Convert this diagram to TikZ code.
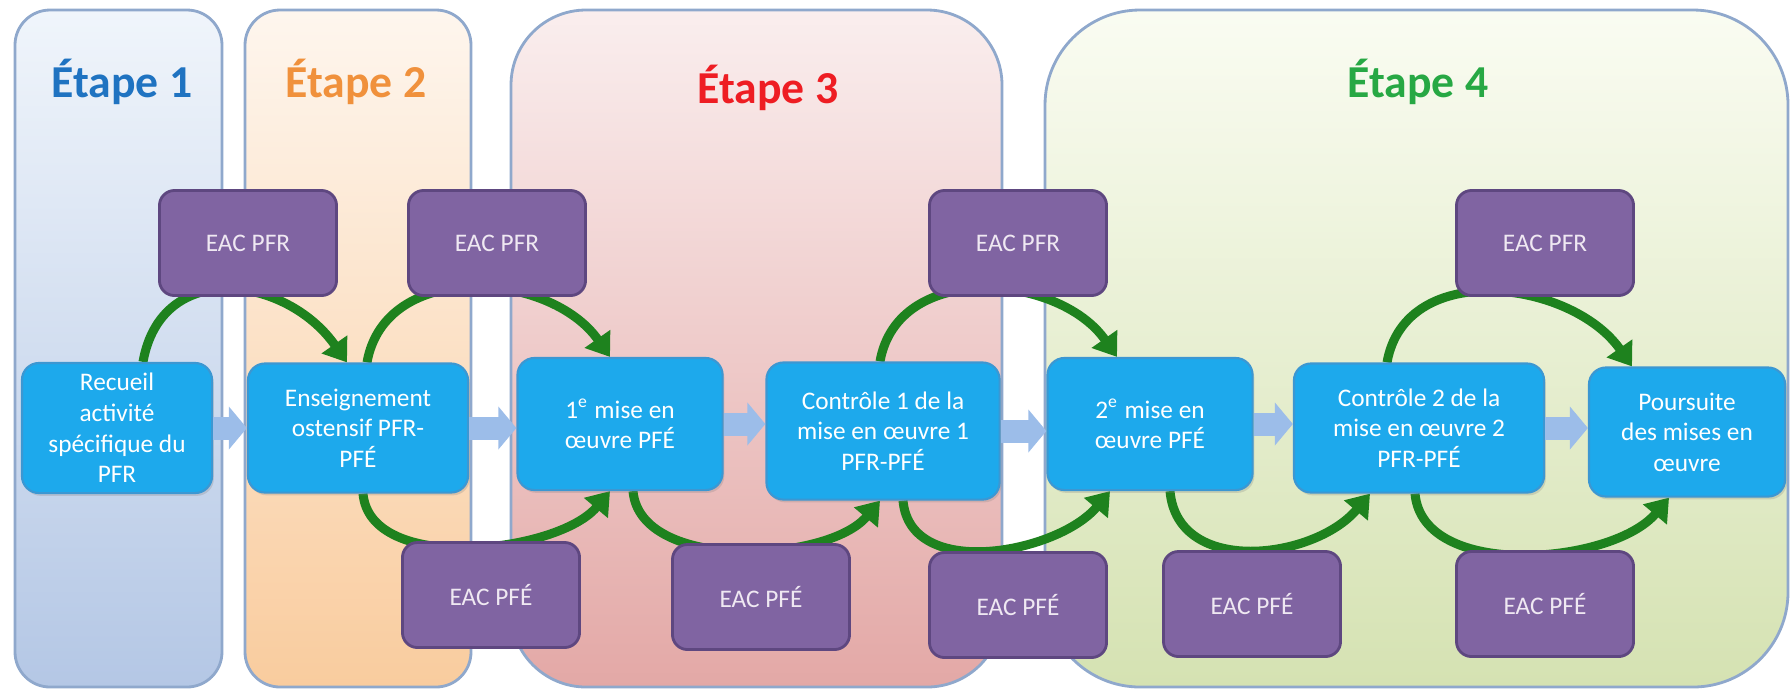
\documentclass[tikz,border=0pt]{standalone}
\usepackage{fontspec}
\setmainfont{Carlito}
\usetikzlibrary{arrows.meta,shadows}

\definecolor{actblue}{HTML}{1DA9EC}
\definecolor{actline}{HTML}{3C97D2}
\definecolor{eacviolet}{HTML}{8064A2}
\definecolor{eacline}{HTML}{5E4780}
\definecolor{eactext}{HTML}{EFE8F2}
\definecolor{loopgreen}{HTML}{1E821E}
\definecolor{flecheblue}{HTML}{9CBDE9}
\definecolor{panelline}{HTML}{8FA8CC}
\definecolor{etapeA}{HTML}{1F73C1}
\definecolor{etapeB}{HTML}{F0913C}
\definecolor{etapeC}{HTML}{EE1D23}
\definecolor{etapeD}{HTML}{27A844}

\pgfdeclarelayer{panels}
\pgfdeclarelayer{loops}
\pgfsetlayers{panels,loops,main}

\tikzset{
  panel/.style={draw=panelline, line width=0.8pt},
  titre/.style={font=\fontsize{13}{15}\selectfont\bfseries, anchor=base, inner sep=0pt},
  act/.style={draw=actline, line width=0.6pt, fill=actblue, rounded corners=0.17cm,
    text=white, align=center, font=\fontsize{7.2}{8.7}\selectfont,
    minimum height=1.29cm, inner sep=0pt,
    drop shadow={shadow xshift=0.5pt, shadow yshift=-0.8pt, opacity=0.25}},
  eac/.style={draw=eacline, line width=0.8pt, fill=eacviolet, rounded corners=0.15cm,
    text=eactext, font=\fontsize{7.2}{8.7}\selectfont,
    minimum width=1.77cm, minimum height=1.05cm, inner sep=0pt},
  fleche/.style={flecheblue, line width=0.23cm, -{Triangle[width=0.42cm, length=0.18cm]}},
  boucle/.style={loopgreen, line width=0.09cm, -{Triangle[width=0.30cm, length=0.22cm]}}
}

\begin{document}
\begin{tikzpicture}[x=0.01cm, y=0.01cm]
  \useasboundingbox (0,0) rectangle (1792,-690);

  % Etapes:
  \begin{pgfonlayer}{panels}
    \draw[panel, rounded corners=0.35cm, top color={rgb,255:red,240;green,245;blue,251}, bottom color={rgb,255:red,180;green,199;blue,229}] (15,-10) rectangle (222,-687);
    \draw[panel, rounded corners=0.35cm, top color={rgb,255:red,254;green,246;blue,238}, bottom color={rgb,255:red,249;green,204;blue,158}] (245,-10) rectangle (471,-687);
    \draw[panel, rounded corners=0.75cm, top color={rgb,255:red,250;green,238;blue,238}, bottom color={rgb,255:red,227;green,168;blue,166}] (511,-10) rectangle (1002,-687);
    \draw[panel, rounded corners=0.95cm, top color={rgb,255:red,250;green,252;blue,242}, bottom color={rgb,255:red,213;green,226;blue,178}] (1045,-10) rectangle (1788,-687);
  \end{pgfonlayer}
  \node[titre, text=etapeA] (t1) at (122,-97) {Étape 1};
  \node[titre, text=etapeB] (t2) at (356,-97) {Étape 2};
  \node[titre, text=etapeC] (t3) at (768,-103) {Étape 3};
  \node[titre, text=etapeD] (t4) at (1418,-97) {Étape 4};

  % Activites:
  \node[act, minimum width=1.90cm, minimum height=1.30cm] (recueil) at (117,-428) {Recueil\\activité\\spécifique du\\PFR};
  \node[act, minimum width=2.20cm] (enseign) at (358,-428) {Enseignement\\ostensif PFR-\\PFÉ};
  \node[act, minimum width=2.05cm, minimum height=1.32cm] (mise1) at (620,-424) {1\textsuperscript{e} mise en\\œuvre PFÉ};
  \node[act, minimum width=2.33cm, minimum height=1.37cm] (ctrl1) at (883,-431) {Contrôle 1 de la\\mise en œuvre 1\\PFR-PFÉ};
  \node[act, minimum width=2.05cm, minimum height=1.32cm] (mise2) at (1150,-424) {2\textsuperscript{e} mise en\\œuvre PFÉ};
  \node[act, minimum width=2.50cm] (ctrl2) at (1419,-428) {Contrôle 2 de la\\mise en œuvre 2\\PFR-PFÉ};
  \node[act, minimum width=1.96cm] (suite) at (1687,-432) {Poursuite\\des mises en\\œuvre};

  % EAC:
  \foreach \n/\x in {p1/248, p2/497, p3/1018, p4/1545}
    \node[eac] (\n) at (\x,-243) {EAC PFR};
  \foreach \n/\x/\y in {e1/491/595, e2/761/597, e3/1018/605, e4/1252/604, e5/1545/604}
    \node[eac] (\n) at (\x,-\y) {EAC PFÉ};

  % Fleches:
  \foreach \a/\b in {recueil/enseign, enseign/mise1, mise1/ctrl1, ctrl1/mise2, mise2/ctrl2, ctrl2/suite}
    \draw[fleche] (\a.east) -- (\a.east -| \b.west);

  \begin{pgfonlayer}{loops}
    \foreach \a/\b/\da/\db/\l in {recueil/enseign/26/-11/1.32, enseign/mise1/9/-10/1.1, ctrl1/mise2/-3/-33/1.1, ctrl2/suite/-32/-55/1.1}
      \draw[boucle] ([xshift=\da*0.01cm]\a.north) to[out=80, in=125, looseness=\l] ([xshift=\db*0.01cm]\b.north);
    \foreach \a/\b/\da/\db/\l in {enseign/mise1/5/-10/0.84, mise1/ctrl1/13/-3/0.84, ctrl1/mise2/20/-40/1.0, mise2/ctrl2/20/-49/1.1, ctrl2/suite/-4/-18/0.88}
      \draw[boucle] ([xshift=\da*0.01cm]\a.south) to[out=-85, in=-130, looseness=\l] ([xshift=\db*0.01cm]\b.south);
  \end{pgfonlayer}
\end{tikzpicture}
\end{document}
